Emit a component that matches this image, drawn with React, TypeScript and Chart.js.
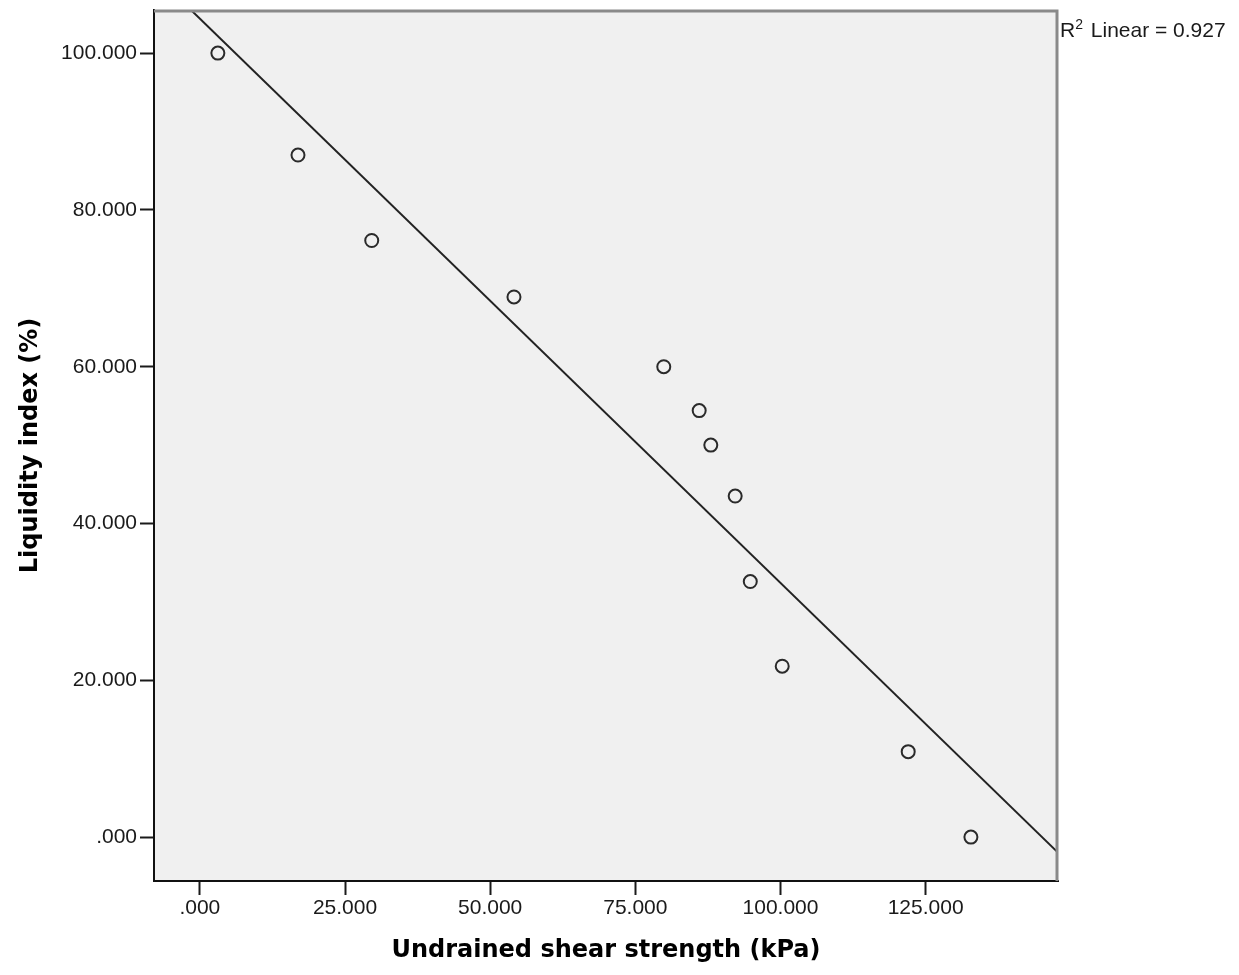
import React, { useEffect, useRef } from "react";
import { Chart, registerables } from "chart.js";

Chart.register(...registerables);

// Data
const shearStrength = [3.1, 16.9, 29.6, 54.1, 79.9, 86.0, 88.0, 92.2, 94.8, 100.3, 122.0, 132.8];
const liquidityIndex = [100.0, 87.0, 76.1, 68.9, 60.0, 54.4, 50.0, 43.5, 32.6, 21.8, 10.9, 0.0];

const xTickValues = [0, 25, 50, 75, 100, 125];
const xTickLabels = [".000", "25.000", "50.000", "75.000", "100.000", "125.000"];
const yTickValues = [0, 20, 40, 60, 80, 100];
const yTickLabels = [".000", "20.000", "40.000", "60.000", "80.000", "100.000"];

const xRange = [-7.9, 147.8];
const yRange = [-5.6, 105.5];

const xTitle = "Undrained shear strength (kPa)";
const yTitle = "Liquidity index (%)";
const r2Label = "0.927";

function linearFit(xs: number[], ys: number[]) {
  const n = xs.length;
  const mx = xs.reduce((a, b) => a + b, 0) / n;
  const my = ys.reduce((a, b) => a + b, 0) / n;
  let sxy = 0;
  let sxx = 0;
  for (let i = 0; i < n; i++) {
    sxy += (xs[i] - mx) * (ys[i] - my);
    sxx += (xs[i] - mx) * (xs[i] - mx);
  }
  const slope = sxy / sxx;
  return { slope, intercept: my - slope * mx };
}

export default function App() {
  const canvasRef = useRef<HTMLCanvasElement | null>(null);

  useEffect(() => {
    const canvas = canvasRef.current;
    if (!canvas) return;
    const fit = linearFit(shearStrength, liquidityIndex);
    const fitLine = xRange.map((x) => ({ x, y: fit.intercept + fit.slope * x }));
    const points = shearStrength.map((x, i) => ({ x, y: liquidityIndex[i] }));

    const framePlugin = {
      id: "frame",
      beforeDraw(chart: any) {
        const { ctx, chartArea: a } = chart;
        ctx.save();
        ctx.fillStyle = "#ffffff";
        ctx.fillRect(0, 0, chart.width, chart.height);
        ctx.fillStyle = "#f0f0f0";
        ctx.fillRect(a.left, a.top, a.right - a.left, a.bottom - a.top);
        ctx.restore();
      },
      afterDraw(chart: any) {
        const { ctx, chartArea: a } = chart;
        ctx.save();
        ctx.strokeStyle = "#8a8a8a";
        ctx.lineWidth = 3;
        ctx.beginPath();
        ctx.moveTo(a.left, a.top + 1);
        ctx.lineTo(a.right - 1, a.top + 1);
        ctx.lineTo(a.right - 1, a.bottom);
        ctx.stroke();
        // R² annotation
        ctx.fillStyle = "#1a1a1a";
        ctx.textBaseline = "alphabetic";
        ctx.textAlign = "left";
        let x = a.right + 2;
        const base = 37;
        ctx.font = '21px "Liberation Sans", Arial, sans-serif';
        ctx.fillText("R", x, base);
        x += ctx.measureText("R").width;
        ctx.font = '14px "Liberation Sans", Arial, sans-serif';
        ctx.fillText("2", x, base - 8);
        x += ctx.measureText("2").width;
        ctx.font = '21px "Liberation Sans", Arial, sans-serif';
        ctx.fillText(" Linear = " + r2Label, x + 2, base);
        ctx.restore();
      },
    };

    const tickFont = { family: '"Liberation Sans", Arial, sans-serif', size: 21 };
    const titleFont = { family: '"DejaVu Sans", sans-serif', size: 24, weight: "bold" as const };

    const chart = new Chart(canvas, {
      type: "scatter",
      data: {
        datasets: [
          {
            type: "line",
            data: fitLine,
            borderColor: "#222222",
            borderWidth: 2,
            pointRadius: 0,
            fill: false,
            clip: 0,
            order: 2,
          } as any,
          {
            type: "scatter",
            data: points,
            pointRadius: 6.5,
            pointBorderWidth: 2,
            borderColor: "#2a2a2a",
            backgroundColor: "rgba(0,0,0,0)",
            pointBackgroundColor: "rgba(0,0,0,0)",
            pointBorderColor: "#2a2a2a",
            order: 1,
          } as any,
        ],
      },
      options: {
        responsive: false,
        animation: false,
        devicePixelRatio: 1,
        layout: { padding: { left: 0, top: 10, right: 181, bottom: 0 } },
        plugins: { legend: { display: false }, tooltip: { enabled: false } },
        scales: {
          x: {
            type: "linear",
            min: xRange[0],
            max: xRange[1],
            afterBuildTicks: (scale: any) => {
              scale.ticks = xTickValues.map((v) => ({ value: v }));
            },
            afterFit: (scale: any) => {
              scale.height = 94;
              scale.paddingLeft = 0;
              scale.paddingRight = 0;
            },
            ticks: {
              includeBounds: false,
              autoSkip: false,
              maxRotation: 0,
              color: "#1a1a1a",
              font: tickFont,
              padding: 1,
              callback: (v: any) => {
                const i = xTickValues.indexOf(Number(v));
                return i >= 0 ? xTickLabels[i] : "";
              },
            },
            grid: {
              drawOnChartArea: false,
              drawTicks: true,
              tickLength: 14,
              tickColor: "#1a1a1a",
              tickWidth: 2,
            },
            border: { display: true, color: "#111111", width: 2 },
            title: {
              display: true,
              text: xTitle,
              color: "#000000",
              font: titleFont,
              padding: { top: 0, bottom: 10 },
            },
          },
          y: {
            type: "linear",
            min: yRange[0],
            max: yRange[1],
            afterBuildTicks: (scale: any) => {
              scale.ticks = yTickValues.map((v) => ({ value: v }));
            },
            afterFit: (scale: any) => {
              scale.width = 154;
              scale.paddingTop = 0;
              scale.paddingBottom = 0;
            },
            ticks: {
              includeBounds: false,
              autoSkip: false,
              color: "#1a1a1a",
              font: tickFont,
              padding: 3,
              callback: (v: any) => {
                const i = yTickValues.indexOf(Number(v));
                return i >= 0 ? yTickLabels[i] : "";
              },
            },
            grid: {
              drawOnChartArea: false,
              drawTicks: true,
              tickLength: 14,
              tickColor: "#1a1a1a",
              tickWidth: 2,
            },
            border: { display: true, color: "#111111", width: 2 },
            title: {
              display: true,
              text: yTitle,
              color: "#000000",
              font: titleFont,
              padding: { top: 16, bottom: 0 },
            },
          },
        },
      },
      plugins: [framePlugin],
    });

    return () => chart.destroy();
  }, []);

  return (
    <div style={{ position: "absolute", left: 0, top: 0, width: 1239, height: 975, background: "#ffffff" }}>
      <canvas ref={canvasRef} width={1239} height={975} style={{ width: 1239, height: 975, display: "block" }} />
    </div>
  );
}
